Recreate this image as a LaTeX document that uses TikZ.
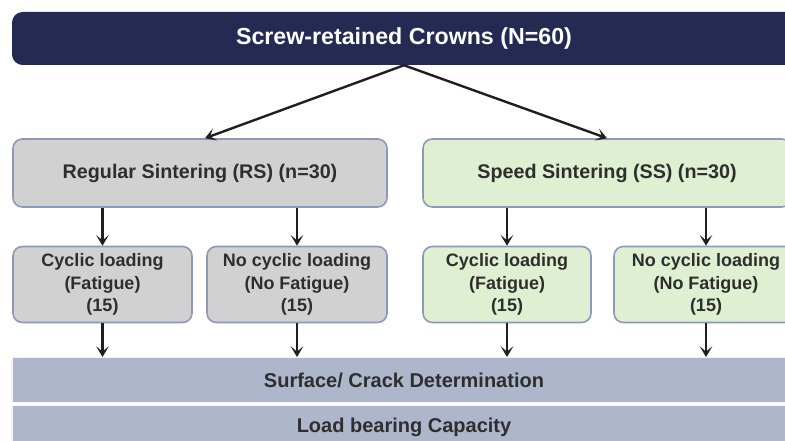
\documentclass[tikz,border=0pt]{standalone}
\usepackage{fontspec}
\setmainfont{Liberation Sans}
\usetikzlibrary{arrows.meta}
\definecolor{navy}{HTML}{252A52}
\definecolor{grayfill}{HTML}{D1D1D1}
\definecolor{greenfill}{HTML}{DEEFD2}
\definecolor{bandfill}{HTML}{ADB6CA}
\definecolor{boxline}{HTML}{8E98B8}
\definecolor{txt}{HTML}{2E2E2E}
\tikzset{
  box/.style={draw=boxline, line width=1.2pt, rounded corners=7pt, inner sep=0pt, text=txt},
  graybox/.style={box, fill=grayfill},
  greenbox/.style={box, fill=greenfill},
  mainfont/.style={font=\fontsize{14.8}{17}\selectfont\bfseries},
  smallfont/.style={font=\fontsize{13.5}{16.9}\selectfont\bfseries, align=center},
  band/.style={draw=white!85!bandfill, line width=0.8pt, fill=bandfill, inner sep=0pt, text=txt,
     font=\fontsize{15}{17}\selectfont\bfseries},
  arr/.style={draw=black!88, line width=1.8pt, -{Stealth[length=8pt,width=9.5pt,inset=4pt]}}
}
\begin{document}
\begin{tikzpicture}[x=0.75pt,y=-0.75pt]
\useasboundingbox (0,0) rectangle (785,441);
\clip (0,0) rectangle (785,441);
% title
\node[fill=navy, rounded corners=8pt, minimum width=784*0.75pt, minimum height=53*0.75pt,
      text=white, font=\fontsize{17.4}{19}\selectfont\bfseries, inner sep=0pt]
  (title) at (404,38.5) {Screw-retained Crowns (N=60)};
% second level
\node[graybox, mainfont, minimum width=374*0.75pt, minimum height=68*0.75pt] (rs) at (200,173) {Regular Sintering (RS) (n=30)};
\node[greenbox, mainfont, minimum width=368*0.75pt, minimum height=68*0.75pt] (ss) at (607,173) {Speed Sintering (SS) (n=30)};
% third level
\node[graybox, smallfont, minimum width=179*0.75pt, minimum height=76*0.75pt] (rsc) at (102.5,284.5) {Cyclic loading\\(Fatigue)\\(15)};
\node[graybox, smallfont, minimum width=180*0.75pt, minimum height=76*0.75pt] (rsn) at (297,284.5) {No cyclic loading\\(No Fatigue)\\(15)};
\node[greenbox, smallfont, minimum width=168*0.75pt, minimum height=76*0.75pt] (ssc) at (507,284.5) {Cyclic loading\\(Fatigue)\\(15)};
\node[greenbox, smallfont, minimum width=184*0.75pt, minimum height=76*0.75pt] (ssn) at (706,284.5) {No cyclic loading\\(No Fatigue)\\(15)};
% bands
\node[band, minimum width=784*0.75pt, minimum height=45*0.75pt] (surf) at (404,380) {Surface/ Crack Determination};
\node[band, minimum width=784*0.75pt, minimum height=44*0.75pt] (load) at (404,427.5) {Load bearing Capacity};
% arrows
\draw[arr] (title.south) -- ([xshift=5*0.75pt]rs.north);
\draw[arr] (title.south) -- (ss.north);
\draw[arr] (rs.south -| rsc.north) -- (rsc.north);
\draw[arr] (rs.south -| rsn.north) -- (rsn.north);
\draw[arr] (ss.south -| ssc.north) -- (ssc.north);
\draw[arr] (ss.south -| ssn.north) -- (ssn.north);
\draw[arr] (rsc.south) -- (surf.north -| rsc.south);
\draw[arr] (rsn.south) -- (surf.north -| rsn.south);
\draw[arr] (ssc.south) -- (surf.north -| ssc.south);
\draw[arr] (ssn.south) -- (surf.north -| ssn.south);
\end{tikzpicture}
\end{document}
